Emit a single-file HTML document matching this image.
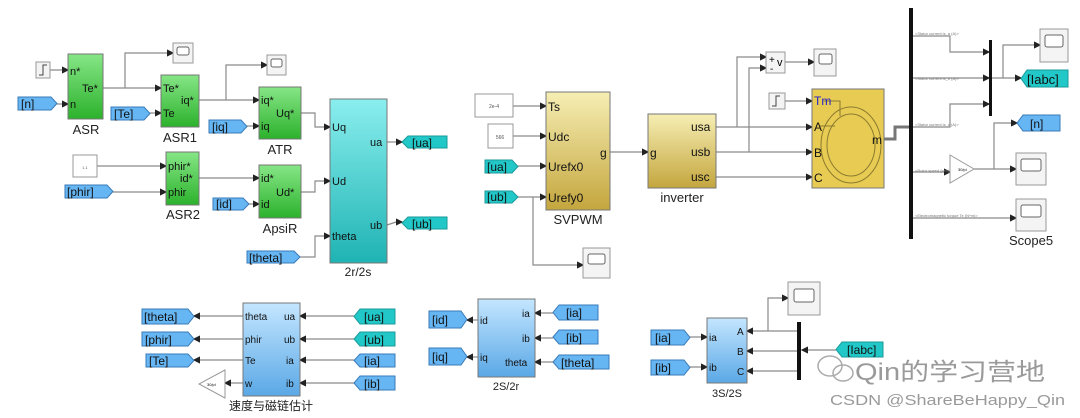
<!DOCTYPE html><html><head><meta charset="utf-8"><style>body{margin:0;background:#fff}svg{display:block}text{font-family:"Liberation Sans","Noto Sans CJK SC",sans-serif}</style></head><body>
<svg width="1080" height="418" viewBox="0 0 1080 418" xmlns="http://www.w3.org/2000/svg">
<defs>
<marker id="a" markerWidth="6" markerHeight="6" refX="5" refY="3" orient="auto"><path d="M0,0 L6,3 L0,6z" fill="#222"/></marker>
<linearGradient id="g" x1="0" y1="0" x2="0" y2="1"><stop offset="0" stop-color="#86e686"/><stop offset="1" stop-color="#2cb22c"/></linearGradient>
<linearGradient id="c" x1="0" y1="0" x2="0" y2="1"><stop offset="0" stop-color="#8aeeee"/><stop offset="1" stop-color="#1fb3b3"/></linearGradient>
<linearGradient id="y" x1="0" y1="0" x2="0" y2="1"><stop offset="0" stop-color="#f6eeb4"/><stop offset="1" stop-color="#c4a63e"/></linearGradient>
<linearGradient id="b" x1="0" y1="0" x2="0" y2="1"><stop offset="0" stop-color="#c4e6ff"/><stop offset="1" stop-color="#5aa8e6"/></linearGradient>
</defs>
<g fill="none" stroke="#8a8a8a" stroke-width="1.2">
<path d="M50,70H68" marker-end="url(#a)"/><path d="M57,104H68" marker-end="url(#a)"/>
<path d="M103,88H161" marker-end="url(#a)"/><path d="M125,88V53H173" marker-end="url(#a)"/>
<path d="M150,113H161" marker-end="url(#a)"/>
<path d="M199,100H259" marker-end="url(#a)"/><path d="M226,100V65H267" marker-end="url(#a)"/>
<path d="M247,126H259" marker-end="url(#a)"/>
<path d="M301,113H315V127H330" marker-end="url(#a)"/>
<path d="M97,166H166" marker-end="url(#a)"/><path d="M113,192H166" marker-end="url(#a)"/>
<path d="M199,178H259" marker-end="url(#a)"/><path d="M249,204H259" marker-end="url(#a)"/>
<path d="M301,192H315V181H330" marker-end="url(#a)"/>
<path d="M300,257H315V236H330" marker-end="url(#a)"/>
<path d="M387,142H402" marker-end="url(#a)"/><path d="M387,225L396,222H402" marker-end="url(#a)"/>
<path d="M513,106H546" marker-end="url(#a)"/><path d="M513,136H546" marker-end="url(#a)"/>
<path d="M518,166H546" marker-end="url(#a)"/><path d="M518,197H546" marker-end="url(#a)"/>
<path d="M533,197V265H583" marker-end="url(#a)"/>
<path d="M610,152H648" marker-end="url(#a)"/>
<path d="M716,127H812" marker-end="url(#a)"/><path d="M716,152H812" marker-end="url(#a)"/><path d="M716,177H812" marker-end="url(#a)"/>
<path d="M737,127V57H766" marker-end="url(#a)"/><path d="M749,152V68H766" marker-end="url(#a)"/>
<path d="M785,62H814" marker-end="url(#a)"/><path d="M785,101H812" marker-end="url(#a)"/>
<path d="M913,36H950V52H989" marker-end="url(#a)"/><path d="M913,78H989" marker-end="url(#a)"/>
<path d="M913,127H950V104H989" marker-end="url(#a)"/>
<path d="M992,78H1021" marker-end="url(#a)"/><path d="M1003,78V45H1040" marker-end="url(#a)"/>
<path d="M913,172H950" marker-end="url(#a)"/><path d="M974,169H1016" marker-end="url(#a)"/>
<path d="M994,169V123H1017" marker-end="url(#a)"/>
<path d="M913,218H1016" marker-end="url(#a)"/>
<path d="M243,316H194" marker-end="url(#a)"/><path d="M243,339H194" marker-end="url(#a)"/>
<path d="M243,360H194" marker-end="url(#a)"/><path d="M243,383H225" marker-end="url(#a)"/>
<path d="M354,316H300" marker-end="url(#a)"/><path d="M354,339H300" marker-end="url(#a)"/>
<path d="M354,360H300" marker-end="url(#a)"/><path d="M354,383H300" marker-end="url(#a)"/>
<path d="M478,320H467" marker-end="url(#a)"/><path d="M478,357H467" marker-end="url(#a)"/>
<path d="M553,313H535" marker-end="url(#a)"/><path d="M553,338H535" marker-end="url(#a)"/><path d="M553,362H535" marker-end="url(#a)"/>
<path d="M690,337H707" marker-end="url(#a)"/><path d="M690,367H707" marker-end="url(#a)"/>
<path d="M797,331H747" marker-end="url(#a)"/><path d="M797,351H747" marker-end="url(#a)"/><path d="M797,371H747" marker-end="url(#a)"/>
<path d="M768,331V298H788" marker-end="url(#a)"/><path d="M836,350H802" marker-end="url(#a)"/>
</g>
<path d="M884,139H895V127H909" fill="none" stroke="#777" stroke-width="3"/>
<g fill="#f4f4f4" stroke="#999">
<rect x="36" y="62" width="14" height="16"/>
<rect x="173" y="43" width="20" height="20"/><rect x="267" y="55" width="19" height="20"/>
<rect x="73" y="155" width="24" height="22" fill="#fff"/>
<rect x="475" y="94" width="38" height="23" fill="#fff"/><rect x="488" y="124" width="25" height="24" fill="#fff"/>
<rect x="583" y="248" width="27" height="30"/>
<rect x="766" y="52" width="19" height="21"/><rect x="814" y="49" width="22" height="27"/>
<rect x="769" y="93" width="16" height="16"/>
<rect x="1040" y="29" width="28" height="33"/><rect x="1016" y="153" width="30" height="32"/><rect x="1016" y="199" width="30" height="32"/>
<rect x="788" y="282" width="32" height="33"/>
</g>
<g fill="#fff" stroke="#666">
<rect x="177" y="47" width="12" height="8" rx="2"/><rect x="271" y="59" width="11" height="8" rx="2"/>
<rect x="588" y="254" width="17" height="10" rx="2"/><rect x="819" y="54" width="13" height="10" rx="2"/>
<rect x="1045" y="35" width="18" height="12" rx="2"/><rect x="1021" y="159" width="20" height="12" rx="2"/><rect x="1021" y="205" width="20" height="12" rx="2"/>
<rect x="794" y="289" width="20" height="13" rx="2"/>
</g>
<path d="M39,75H43V65H47M772,106H776V96H780" fill="none" stroke="#444"/>
<text x="85" y="169" font-size="4" text-anchor="middle" fill="#666">1.1</text>
<text x="494" y="108" font-size="5" text-anchor="middle" fill="#555">2e-4</text>
<text x="500" y="139" font-size="5" text-anchor="middle" fill="#555">566</text>
<text x="769" y="63" font-size="10">+</text><text x="770" y="72" font-size="10">-</text><text x="777" y="66" font-size="11">v</text>
<rect x="909" y="8" width="4" height="231" fill="#111"/><rect x="989" y="40" width="3" height="76" fill="#111"/><rect x="797" y="322" width="4" height="58" fill="#111"/>
<g font-size="4" fill="#777"><text x="915" y="35">&lt;Stator current is_a (A)&gt;</text><text x="915" y="80">&lt;Stator current is_b (A)&gt;</text><text x="915" y="126">&lt;Stator current is_c (A)&gt;</text><text x="915" y="172">&lt;Rotor speed (wm)&gt;</text><text x="915" y="217">&lt;Electromagnetic torque Te (N*m)&gt;</text></g>
<path d="M950,155L974,169L950,183Z" fill="#fff" stroke="#999"/><text x="958" y="171" font-size="4">30/pi</text>
<path d="M225,370L199,384L225,398Z" fill="#fff" stroke="#999"/><text x="207" y="386" font-size="4">30/pi</text>
<g stroke="#777">
<rect x="68" y="54" width="35" height="65" fill="url(#g)"/><rect x="161" y="75" width="38" height="52" fill="url(#g)"/>
<rect x="259" y="87" width="42" height="52" fill="url(#g)"/><rect x="166" y="152" width="33" height="53" fill="url(#g)"/>
<rect x="259" y="165" width="42" height="53" fill="url(#g)"/>
<rect x="330" y="99" width="57" height="164" fill="url(#c)"/>
<rect x="546" y="92" width="64" height="118" fill="url(#y)"/><rect x="648" y="114" width="68" height="74" fill="url(#y)"/>
<rect x="812" y="89" width="72" height="99" fill="#e8cb52"/>
<rect x="243" y="303" width="57" height="93" fill="url(#b)"/><rect x="478" y="299" width="57" height="78" fill="url(#b)"/>
<rect x="707" y="318" width="40" height="65" fill="url(#b)"/>
</g>
<ellipse cx="851" cy="145" rx="30" ry="38" fill="none" stroke="#8a7a30"/><ellipse cx="851" cy="145" rx="24" ry="31" fill="none" stroke="#8a7a30"/>
<path d="M824,101H840V116M820,126H835" fill="none" stroke="#8a7a30"/>
<g stroke="#3a7ab8" fill="#66b6f4">
<path d="M18,97H51L57,103.5L51,110H18Z"/><path d="M111,107H144L150,113.5L144,120H111Z"/><path d="M209,120H241L247,126.5L241,133H209Z"/>
<path d="M65,185H107L113,191.5L107,198H65Z"/><path d="M213,198H243L249,204L243,210H213Z"/><path d="M247,251H294L300,257L294,263H247Z"/>
<path d="M1060,115H1023L1017,123L1023,131H1060Z"/>
<path d="M142,309H188L194,316.5L188,324H142Z"/><path d="M142,332H188L194,339L188,346H142Z"/><path d="M146,354H188L194,360.5L188,367H146Z"/>
<path d="M395,354H360L354,360.5L360,367H395Z"/><path d="M395,376H360L354,383L360,390H395Z"/>
<path d="M429,311H461L467,319.5L461,328H429Z"/><path d="M429,348H461L467,356.5L461,365H429Z"/>
<path d="M598,305H559L553,312.5L559,320H598Z"/><path d="M598,330H559L553,337L559,344H598Z"/><path d="M609,355H559L553,362L559,369H609Z"/>
<path d="M651,330H684L690,337.5L684,345H651Z"/><path d="M651,360H684L690,367.5L684,375H651Z"/>
</g>
<g stroke="#1a9a9a" fill="#22c8c8">
<path d="M447,136H408L402,142L408,148H447Z"/><path d="M447,217H408L402,223L408,229H447Z"/>
<path d="M485,160H512L518,166.5L512,173H485Z"/><path d="M485,191H512L518,197L512,203H485Z"/>
<path d="M1068,70H1027L1021,78.5L1027,87H1068Z"/>
<path d="M395,309H360L354,316.5L360,324H395Z"/><path d="M395,332H360L354,339L360,346H395Z"/>
<path d="M883,342H842L836,349.5L842,357H883Z"/>
</g>
<g font-size="12" fill="#111">
<text x="21" y="108">[n]</text><text x="114" y="118">[Te]</text><text x="212" y="131">[iq]</text><text x="67" y="196">[phir]</text><text x="216" y="208">[id]</text><text x="249" y="262">[theta]</text>
<text x="412" y="147">[ua]</text><text x="412" y="228">[ub]</text><text x="487" y="171">[ua]</text><text x="487" y="201">[ub]</text>
<text x="1027" y="84" font-size="13">[Iabc]</text><text x="1030" y="128">[n]</text>
<text x="144" y="321">[theta]</text><text x="145" y="344">[phir]</text><text x="149" y="365">[Te]</text>
<text x="364" y="321">[ua]</text><text x="364" y="344">[ub]</text><text x="364" y="365">[ia]</text><text x="364" y="388">[ib]</text>
<text x="432" y="324">[id]</text><text x="432" y="361">[iq]</text><text x="566" y="317">[ia]</text><text x="566" y="342">[ib]</text><text x="561" y="367">[theta]</text>
<text x="655" y="342">[ia]</text><text x="655" y="372">[ib]</text><text x="847" y="354">[Iabc]</text>
</g>
<g font-size="11" fill="#111">
<text x="70" y="75">n*</text><text x="70" y="108">n</text><text x="82" y="92">Te*</text>
<text x="163" y="92">Te*</text><text x="163" y="117">Te</text><text x="181" y="104">iq*</text>
<text x="261" y="104">iq*</text><text x="261" y="130">iq</text><text x="276" y="117">Uq*</text>
<text x="168" y="170">phir*</text><text x="180" y="182">id*</text><text x="168" y="196">phir</text>
<text x="261" y="182">id*</text><text x="261" y="208">id</text><text x="276" y="196">Ud*</text>
<text x="332" y="131">Uq</text><text x="332" y="185">Ud</text><text x="332" y="240">theta</text><text x="370" y="146">ua</text><text x="370" y="229">ub</text>
<text x="548" y="111" font-size="12">Ts</text><text x="548" y="141" font-size="12">Udc</text><text x="548" y="171" font-size="12">Urefx0</text><text x="548" y="202" font-size="12">Urefy0</text><text x="600" y="157" font-size="12">g</text>
<text x="650" y="157" font-size="12">g</text><text x="691" y="131" font-size="12">usa</text><text x="691" y="156" font-size="12">usb</text><text x="691" y="181" font-size="12">usc</text>
<text x="814" y="105" font-size="12" fill="#2222cc">Tm</text><text x="814" y="131" font-size="12">A</text><text x="814" y="157" font-size="12">B</text><text x="814" y="182" font-size="12">C</text><text x="872" y="144" font-size="12">m</text>
<text x="245" y="320" font-size="10">theta</text><text x="245" y="343" font-size="10">phir</text><text x="245" y="364" font-size="10">Te</text><text x="245" y="387" font-size="10">w</text>
<text x="284" y="320" font-size="10">ua</text><text x="284" y="343" font-size="10">ub</text><text x="286" y="364" font-size="10">ia</text><text x="286" y="387" font-size="10">ib</text>
<text x="480" y="324" font-size="10">id</text><text x="480" y="361" font-size="10">iq</text><text x="522" y="317" font-size="10">ia</text><text x="522" y="342" font-size="10">ib</text><text x="505" y="366" font-size="10">theta</text>
<text x="709" y="341" font-size="10">ia</text><text x="709" y="371" font-size="10">ib</text><text x="737" y="335" font-size="10">A</text><text x="737" y="355" font-size="10">B</text><text x="737" y="375" font-size="10">C</text>
</g>
<g font-size="13" fill="#222" text-anchor="middle">
<text x="86" y="134">ASR</text><text x="180" y="142">ASR1</text><text x="280" y="154">ATR</text><text x="183" y="219">ASR2</text><text x="280" y="233">ApsiR</text><text x="358" y="276" font-size="12">2r/2s</text>
<text x="578" y="224">SVPWM</text><text x="682" y="202">inverter</text><text x="1031" y="245">Scope5</text>
<text x="271" y="410" font-size="12">速度与磁链估计</text><text x="506" y="390" font-size="11">2S/2r</text><text x="727" y="397" font-size="11">3S/2S</text>
</g>
<g fill="none" stroke="#aaa" stroke-width="1.5"><ellipse cx="830" cy="366" rx="12" ry="10"/><ellipse cx="843" cy="373" rx="10" ry="8"/></g>
<text x="855" y="380" font-size="24" fill="#9a9a9a" textLength="190" lengthAdjust="spacingAndGlyphs">Qin的学习营地</text>
<text x="830" y="405" font-size="15" fill="#9a9a9a" textLength="235" lengthAdjust="spacingAndGlyphs">CSDN @ShareBeHappy_Qin</text>
</svg>
</body></html>
